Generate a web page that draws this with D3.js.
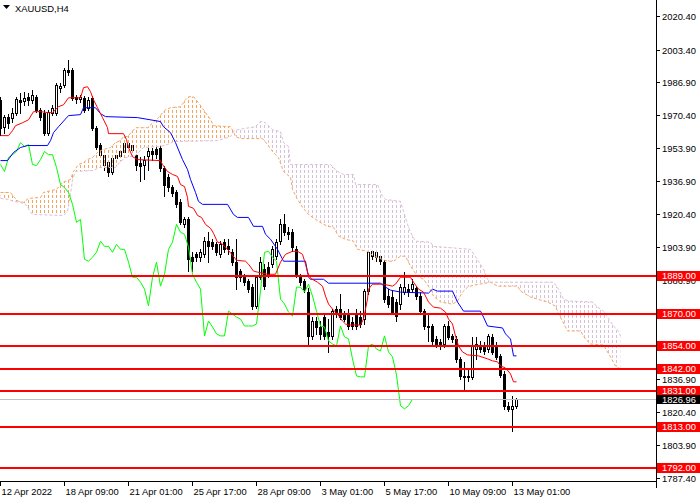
<!DOCTYPE html>
<html>
<head>
<meta charset="utf-8">
<script src="https://cdn.jsdelivr.net/npm/d3@7"></script>
<style>
  html, body { margin: 0; padding: 0; background: #fff; }
  svg text { font-family: "Liberation Sans", Arial, sans-serif; font-size: 9.4px; }
</style>
</head>
<body>
<div id="container"></div>
<script>
// XAUUSD H4 candles, bars 0..129 (one bar = 4 hours)
const open = [1978.1,1964.5,1969.6,1969.1,1971.6,1978.1,1977.6,1979.6,1978.1,1979.6,
  1973.1,1971.6,1961.5,1971.6,1971.6,1984.2,1985.7,1993.2,1993.2,1979.6,
  1978.6,1979.1,1974.1,1979.1,1964.0,1955.5,1950.4,1946.9,1941.9,1948.9,
  1949.4,1952.0,1956.5,1953.0,1950.4,1946.4,1945.4,1949.4,1952.0,1953.0,
  1954.0,1943.9,1938.9,1934.3,1931.3,1926.3,1915.2,1917.7,1898.6,1900.1,
  1898.6,1900.1,1906.7,1906.2,1905.1,1900.1,1906.2,1904.1,1901.1,1896.1,
  1891.6,1889.0,1886.5,1883.5,1874.0,1888.5,1892.6,1893.6,1895.1,1899.1,
  1906.7,1915.2,1911.2,1911.2,1902.6,1889.0,1886.5,1881.0,1858.9,1866.4,
  1863.4,1868.4,1860.9,1858.9,1872.4,1872.4,1869.9,1869.9,1865.9,1869.9,
  1868.4,1867.4,1881.5,1899.1,1901.1,1899.1,1896.1,1879.0,1878.5,1876.0,
  1875.0,1881.0,1882.5,1882.5,1883.0,1879.0,1871.4,1863.9,1863.9,1857.4,
  1855.8,1854.8,1863.9,1858.9,1857.4,1847.3,1838.7,1838.7,1838.2,1852.3,
  1853.8,1853.3,1852.3,1858.4,1853.8,1848.8,1839.7,1823.6,1822.1,1823.6];
const high = [1979.6,1970.6,1971.1,1974.1,1979.6,1981.6,1982.1,1981.6,1983.2,1980.6,
  1974.1,1973.1,1973.1,1975.6,1986.7,1986.7,1994.2,1998.3,1994.2,1980.6,
  1980.6,1980.1,1979.6,1980.1,1965.0,1956.5,1952.0,1948.9,1950.4,1953.0,
  1954.0,1958.0,1958.0,1957.0,1953.0,1949.4,1949.9,1954.0,1954.0,1954.5,
  1955.5,1944.9,1940.4,1935.3,1932.8,1927.8,1918.7,1918.7,1901.1,1901.1,
  1902.6,1908.7,1911.2,1907.7,1906.2,1906.7,1907.7,1907.7,1902.6,1907.7,
  1892.6,1890.0,1887.5,1885.0,1889.5,1898.6,1895.1,1896.1,1904.1,1907.7,
  1917.7,1920.2,1913.7,1912.7,1904.1,1890.0,1887.5,1883.0,1868.4,1868.4,
  1866.4,1869.9,1867.4,1872.4,1874.0,1880.0,1871.4,1872.4,1868.4,1872.4,
  1871.4,1882.5,1905.1,1909.2,1903.6,1908.7,1897.6,1882.5,1881.5,1877.5,
  1885.0,1891.1,1885.0,1887.5,1884.0,1881.0,1872.4,1869.9,1864.9,1858.9,
  1857.4,1864.9,1866.4,1859.9,1858.9,1848.3,1845.8,1842.2,1858.4,1858.4,
  1856.3,1855.8,1859.9,1859.9,1855.8,1849.8,1841.2,1825.6,1828.6,1827.6];
const low = [1960.5,1961.5,1964.0,1967.1,1970.6,1971.6,1975.6,1975.6,1976.6,1972.1,
  1968.1,1960.5,1960.5,1970.6,1970.6,1982.1,1984.7,1990.7,1978.1,1976.6,
  1977.1,1972.1,1973.1,1963.0,1953.0,1947.9,1942.9,1939.4,1940.4,1946.9,
  1947.9,1950.4,1953.0,1952.0,1942.9,1936.9,1937.9,1942.9,1947.9,1948.9,
  1941.9,1929.3,1931.8,1929.3,1923.8,1915.2,1913.7,1891.6,1891.6,1896.6,
  1896.6,1898.6,1896.1,1902.6,1899.6,1898.6,1901.1,1900.1,1894.6,1882.5,
  1886.5,1884.5,1881.0,1872.4,1873.0,1887.5,1882.5,1888.5,1893.6,1897.6,
  1905.1,1909.7,1907.7,1901.6,1888.5,1884.5,1881.0,1854.8,1857.4,1859.9,
  1857.4,1857.4,1850.8,1857.4,1868.4,1867.4,1866.4,1862.4,1862.4,1862.4,
  1863.4,1864.9,1880.0,1897.6,1896.6,1895.1,1876.0,1873.5,1869.9,1866.4,
  1872.4,1880.0,1879.0,1881.0,1877.5,1869.9,1862.4,1856.3,1854.8,1853.3,
  1852.3,1853.3,1857.4,1855.8,1845.8,1837.2,1832.2,1836.2,1837.2,1847.3,
  1850.8,1849.8,1850.8,1849.8,1847.3,1838.2,1822.1,1821.1,1811.0,1822.6];
const close = [1964.0,1969.6,1966.6,1971.6,1978.6,1977.1,1979.1,1978.1,1980.6,1973.1,
  1969.6,1961.5,1972.1,1974.1,1985.7,1985.2,1993.2,1992.2,1979.1,1978.6,
  1979.6,1973.1,1978.1,1964.0,1954.5,1950.4,1945.4,1941.9,1948.9,1950.4,
  1952.0,1956.5,1954.5,1955.5,1945.4,1944.9,1947.9,1952.0,1950.4,1950.4,
  1943.9,1935.3,1933.8,1931.3,1925.3,1916.2,1917.7,1897.6,1896.6,1898.6,
  1901.1,1906.7,1904.1,1904.1,1901.1,1905.1,1902.6,1902.6,1896.1,1888.5,
  1888.5,1886.0,1882.5,1874.0,1888.5,1896.1,1884.0,1890.0,1902.6,1906.2,
  1915.2,1911.2,1910.2,1903.6,1890.0,1886.0,1882.5,1858.9,1866.4,1863.4,
  1859.9,1858.9,1858.9,1871.4,1869.9,1868.4,1867.4,1863.9,1863.9,1863.9,
  1864.9,1881.5,1901.1,1901.6,1898.6,1896.6,1877.5,1875.0,1870.9,1868.9,
  1883.5,1883.5,1881.0,1885.0,1879.0,1871.4,1863.9,1863.4,1856.3,1854.8,
  1853.8,1863.9,1858.4,1857.4,1847.3,1838.7,1838.2,1838.2,1853.8,1854.8,
  1852.3,1851.3,1858.9,1850.8,1848.3,1839.2,1823.6,1822.1,1823.6,1826.96];

// Ichimoku lines as [bar, price]
const tenkan = [[0,1960.0],[2,1960.0],[3,1962.5],[3.75,1965.0],[5.5,1966.5],[7,1968.0],[8.25,1972.1],[10,1972.1],
  [12,1971.6],[13,1971.6],[14.5,1974.6],[15.75,1975.6],[17,1979.1],[20,1979.1],[20.75,1984.2],[21.75,1984.7],
  [22.5,1982.2],[23.25,1978.1],[24.25,1974.1],[25.5,1969.1],[26.75,1964.0],[27,1961.0],[30.75,1961.0],[31.5,1958.0],
  [32,1954.0],[33,1949.4],[34.25,1947.9],[40,1947.4],[40.5,1945.4],[41.75,1941.9],[43,1940.4],[44.25,1939.4],
  [45,1935.3],[46,1934.3],[46.75,1928.8],[47,1924.3],[48.25,1923.3],[49.25,1919.7],[50.25,1918.7],[51.25,1915.2],
  [52.5,1913.2],[53.25,1910.7],[54.25,1906.2],[55.25,1905.7],[56.75,1902.6],[58,1899.6],[59,1897.1],[61.25,1896.6],
  [62,1895.1],[63.25,1891.6],[64.25,1891.1],[66.75,1890.0],[68.75,1890.0],[70,1896.1],[71.25,1900.1],[73,1901.6],
  [74.25,1901.6],[75.5,1900.1],[76.25,1895.1],[76.75,1891.1],[77.5,1888.0],[79.25,1886.0],[80.5,1884.0],[81.25,1879.0],
  [82,1875.0],[83,1872.4],[84.25,1869.9],[85.5,1866.4],[86.25,1864.9],[87,1864.4],[90,1864.4],[90.75,1867.4],
  [91.25,1872.4],[91.75,1877.5],[92,1882.5],[93,1885.0],[95.75,1885.0],[98,1884.0],[98.75,1885.0],[100,1888.5],
  [102.5,1888.5],[103.25,1886.0],[104.5,1882.5],[105.75,1881.0],[107,1876.0],[108.25,1873.4],[110,1872.9],[111.25,1870.9],
  [112,1867.4],[113,1864.9],[113.75,1858.8],[114.5,1853.8],[115.5,1850.8],[116.75,1849.3],[119.5,1848.8],[121.75,1847.3],
  [123,1846.3],[124.25,1845.8],[125,1843.7],[126.25,1842.7],[127.5,1839.7],[128.25,1835.7],[129,1835.7]];
const kijun = [[0,1947.4],[1.75,1947.4],[3.25,1951.5],[5,1954.0],[6.75,1955.0],[11.75,1955.0],[12.5,1957.5],[13.25,1961.5],
  [14.5,1964.5],[17,1970.1],[20,1970.6],[20.75,1974.1],[23.75,1974.1],[25,1971.1],[26.25,1969.6],[34.25,1969.1],
  [40,1967.1],[40.75,1964.5],[42.5,1961.5],[43.75,1956.5],[45.5,1947.9],[46.75,1942.9],[47.5,1937.9],[48.75,1931.3],
  [49.5,1926.8],[50.5,1925.3],[56.75,1925.3],[58.25,1920.2],[59.25,1918.7],[62,1918.7],[63.25,1914.2],[65.5,1914.2],
  [66.25,1910.2],[67.5,1907.7],[69.25,1902.6],[70.5,1897.6],[70.75,1896.6],[76.25,1896.6],[77,1888.5],[77.5,1887.5],
  [80.75,1887.5],[82,1885.5],[95,1885.5],[96.25,1883.5],[97.5,1882.0],[100,1881.0],[107,1880.5],[108,1882.5],
  [109.25,1881.5],[113,1881.5],[114.25,1876.0],[115.75,1871.4],[120,1871.4],[120.75,1868.4],[121.75,1863.9],[125.5,1862.9],
  [126.25,1859.9],[127.5,1857.3],[128.25,1848.8],[129,1848.8]];
const spanA = [[0,1931.3],[2.5,1931.3],[3.25,1929.3],[4.5,1926.8],[5.75,1926.3],[7,1928.3],[10,1928.8],[10.75,1931.3],
  [13.75,1932.8],[14.5,1933.8],[15.5,1936.4],[17.5,1937.9],[18.25,1941.9],[19.5,1945.4],[20.75,1946.4],[21.75,1947.9],
  [23,1948.9],[24.5,1952.0],[25.75,1953.0],[27.5,1954.0],[28.75,1956.5],[30,1957.5],[30.75,1959.5],[31.75,1959.5],
  [33.75,1964.0],[36.75,1964.0],[39.5,1969.1],[41.25,1973.1],[42.5,1974.1],[45,1974.6],[46.25,1978.1],[47,1979.6],
  [48.25,1979.6],[49.5,1976.6],[50.75,1973.1],[52.5,1968.1],[53.25,1965.0],[57.5,1964.5],[58.25,1962.0],[58.75,1959.5],
  [60,1958.5],[65.5,1958.5],[66.75,1955.5],[68,1952.0],[69.5,1948.9],[70.75,1941.9],[72.5,1938.9],[73,1932.8],
  [74.25,1927.8],[75.5,1923.8],[77,1920.2],[79.5,1916.7],[81.75,1914.2],[83.25,1913.7],[84.5,1909.2],[86.25,1907.7],
  [88.25,1906.7],[89.25,1902.6],[91.75,1901.6],[93.25,1899.1],[96.75,1896.6],[98.25,1896.6],[100,1899.1],[101.25,1899.1],
  [102.5,1894.1],[104.25,1889.0],[105.75,1887.5],[107,1884.0],[108.25,1879.0],[110,1876.0],[113,1874.9],[114.25,1876.5],
  [115.5,1881.0],[116.75,1883.5],[118.25,1884.5],[122.5,1886.0],[124.25,1884.0],[129.25,1884.0],[130,1881.5],[131.25,1880.0],
  [132.5,1878.5],[135,1877.0],[136.75,1876.0],[138.75,1873.9],[139.5,1869.9],[140.5,1866.4],[141.75,1861.4],[145,1861.4],
  [146.25,1857.3],[147.5,1854.8],[150.75,1854.3],[151.75,1850.8],[152.5,1848.3],[153.75,1843.7],[155,1842.2]];
const spanB = [[0,1928.3],[2,1927.8],[3.25,1926.8],[5,1926.3],[6.25,1925.3],[8,1920.2],[15.75,1919.7],[16.75,1921.8],
  [17.5,1930.3],[18,1937.9],[18.75,1941.9],[23.25,1942.4],[24.5,1943.9],[28.75,1943.9],[30,1946.9],[31.25,1948.9],
  [33.75,1949.9],[35.75,1954.0],[40,1954.5],[41.75,1955.5],[43.25,1957.0],[54.25,1957.5],[57.5,1959.5],[58.25,1962.0],
  [59.25,1963.0],[63.75,1964.5],[65,1967.1],[65.75,1967.1],[66.75,1965.5],[68,1963.0],[70,1962.0],[70.75,1956.5],
  [72,1954.5],[72.5,1945.4],[82.5,1945.4],[84.25,1941.9],[85.75,1940.4],[88.25,1940.4],[88.75,1935.3],[94.25,1935.3],
  [95.5,1929.3],[96.25,1927.8],[100,1926.8],[100.75,1921.8],[102,1913.7],[103,1909.2],[103.75,1906.7],[107.5,1906.2],
  [108.25,1904.1],[117.5,1902.6],[119.5,1896.6],[120.75,1892.6],[121.75,1887.5],[122.5,1886.0],[138.25,1886.0],[139.5,1882.5],
  [140.75,1877.5],[142,1876.5],[148,1876.0],[149.25,1873.4],[150.75,1871.4],[151.75,1868.4],[153.25,1863.9],[154.5,1861.4],
  [155,1858.8]];
const chikouShift = 26;

// horizontal levels and axis labels
const levels = [1889.00, 1870.00, 1854.00, 1842.00, 1831.00, 1813.00, 1792.00];
const lastPrice = 1826.96;
const priceTicks = [2020.40, 2003.40, 1986.90, 1970.40, 1953.90, 1936.90, 1920.40, 1903.90,
  1886.90, 1870.40, 1853.90, 1836.90, 1820.40, 1803.90, 1787.40];
const timeTickBars = [0, 16, 32, 48, 64, 80, 96, 112, 128];
const timeTickLabels = ["12 Apr 2022", "18 Apr 09:00", "21 Apr 01:00", "25 Apr 17:00", "28 Apr 09:00",
  "3 May 01:00", "5 May 17:00", "10 May 09:00", "13 May 01:00"];

const width = 700, height = 500;
const plotRight = 656, plotBottom = 481;

const x = d3.scaleLinear().domain([0, 164]).range([0, plotRight]);
const y = d3.scaleLinear().domain([1787.4, 2020.4]).range([477.5, 16]);
const cx = (i) => Math.round(x(i)) + 0.5;

const svg = d3.create("svg")
  .attr("width", width)
  .attr("height", height)
  .attr("viewBox", [0, 0, width, height]);

svg.append("rect").attr("width", width).attr("height", height).attr("fill", "#fff");

const defs = svg.append("defs");
// MT4 style dotted histogram: 3px colour, 2px background, one column per bar
function hatch(id, color) {
  const p = defs.append("pattern")
    .attr("id", id)
    .attr("patternUnits", "userSpaceOnUse")
    .attr("width", 4).attr("height", 5);
  p.append("rect").attr("x", 0).attr("y", 0).attr("width", 1).attr("height", 5).attr("fill", "#fff");
  p.append("rect").attr("x", 0).attr("y", 0).attr("width", 1).attr("height", 3).attr("fill", color);
}
hatch("kumoUp", "#F4A460");
hatch("kumoDn", "#D8BFD8");

defs.append("clipPath").attr("id", "plotClip")
  .append("rect").attr("width", plotRight).attr("height", plotBottom);

// region above / below span B, used to colour the cloud
const aboveB = d3.area().x(d => x(d[0]) + 0.5).y0(0).y1(d => y(d[1]));
const belowB = d3.area().x(d => x(d[0]) + 0.5).y0(plotBottom).y1(d => y(d[1]));
defs.append("clipPath").attr("id", "clipAbove").append("path").attr("d", aboveB(spanB));
defs.append("clipPath").attr("id", "clipBelow").append("path").attr("d", belowB(spanB));

const plot = svg.append("g").attr("clip-path", "url(#plotClip)");

// candles
const bars = d3.range(open.length);
const candles = plot.append("g");
candles.selectAll("line")
  .data(bars)
  .join("line")
  .attr("x1", cx).attr("x2", cx)
  .attr("y1", i => Math.round(y(high[i])))
  .attr("y2", i => Math.round(y(low[i])) + 1)
  .attr("stroke", "#000")
  .attr("stroke-width", 1);
candles.selectAll("rect")
  .data(bars)
  .join("rect")
  .attr("x", i => cx(i) - 1)
  .attr("width", 2)
  .attr("y", i => Math.round(y(Math.max(open[i], close[i]))) + 0.5)
  .attr("height", i => Math.max(0.01, Math.round(Math.abs(y(open[i]) - y(close[i])))))
  .attr("fill", i => close[i] >= open[i] ? "#fff" : "#000")
  .attr("stroke", "#000")
  .attr("stroke-width", 1);

// kumo
const line = d3.line().x(d => x(d[0]) + 0.5).y(d => y(d[1]));
const kumoPath = line(spanA) + "L" + line(spanB.slice().reverse()).slice(1) + "Z";
plot.append("path").attr("d", kumoPath).attr("fill", "url(#kumoUp)").attr("clip-path", "url(#clipAbove)");
plot.append("path").attr("d", kumoPath).attr("fill", "url(#kumoDn)").attr("clip-path", "url(#clipBelow)");
plot.append("path").attr("d", line(spanA)).attr("fill", "none")
  .attr("stroke", "#F4A460").attr("stroke-width", 1).attr("stroke-dasharray", "3,2");
plot.append("path").attr("d", line(spanB)).attr("fill", "none")
  .attr("stroke", "#D8BFD8").attr("stroke-width", 1).attr("stroke-dasharray", "3,2");

// chikou span: the close plotted 26 bars back
const chikou = close.map((c, i) => [i - chikouShift, c]).filter(d => d[0] >= 0);
plot.append("path").attr("d", line(chikou)).attr("fill", "none").attr("stroke", "#00FF00").attr("stroke-width", 1);
plot.append("path").attr("d", line(kijun)).attr("fill", "none").attr("stroke", "#0000FF").attr("stroke-width", 1);
plot.append("path").attr("d", line(tenkan)).attr("fill", "none").attr("stroke", "#FF0000").attr("stroke-width", 1);

// last price line
svg.append("line")
  .attr("x1", 0).attr("x2", plotRight)
  .attr("y1", Math.round(y(lastPrice)) + 0.5).attr("y2", Math.round(y(lastPrice)) + 0.5)
  .attr("stroke", "#C0C0C0").attr("stroke-width", 1);

// horizontal levels
svg.append("g").selectAll("line")
  .data(levels)
  .join("line")
  .attr("x1", 0).attr("x2", plotRight)
  .attr("y1", d => Math.round(y(d))).attr("y2", d => Math.round(y(d)))
  .attr("stroke", "#FF0000").attr("stroke-width", 2);

// price axis
svg.append("line")
  .attr("x1", plotRight + 0.5).attr("x2", plotRight + 0.5)
  .attr("y1", 0).attr("y2", 488)
  .attr("stroke", "#000");
const pt = svg.append("g").selectAll("g").data(priceTicks).join("g")
  .attr("transform", d => `translate(0,${Math.round(y(d)) + 0.5})`);
pt.append("line").attr("x1", plotRight).attr("x2", plotRight + 4).attr("stroke", "#000");
pt.append("text").attr("x", plotRight + 6).attr("dy", "0.35em").attr("fill", "#000")
  .text(d => d.toFixed(2));

const lv = svg.append("g").selectAll("g").data(levels).join("g")
  .attr("transform", d => `translate(0,${Math.round(y(d))})`);
lv.append("rect").attr("x", plotRight + 1).attr("y", -5).attr("width", 43).attr("height", 10).attr("fill", "#FF0000");
lv.append("text").attr("x", plotRight + 6).attr("dy", "0.35em").attr("fill", "#fff")
  .text(d => d.toFixed(2));

const lp = svg.append("g").attr("transform", `translate(0,${Math.round(y(lastPrice))})`);
lp.append("rect").attr("x", plotRight + 1).attr("y", -4).attr("width", 43).attr("height", 9).attr("fill", "#000");
lp.append("text").attr("x", plotRight + 6).attr("dy", "0.38em").attr("fill", "#fff").text(lastPrice.toFixed(2));

// time axis
svg.append("line")
  .attr("x1", 0).attr("x2", plotRight + 1)
  .attr("y1", plotBottom + 0.5).attr("y2", plotBottom + 0.5)
  .attr("stroke", "#000");
const tt = svg.append("g").selectAll("g").data(timeTickBars).join("g")
  .attr("transform", d => `translate(${cx(d)},0)`);
tt.append("line").attr("y1", plotBottom).attr("y2", plotBottom + 5).attr("stroke", "#000");
tt.append("text").attr("x", 1).attr("y", 495).attr("fill", "#000")
  .text((d, i) => timeTickLabels[i]);

// title
svg.append("path").attr("d", "M3,5L10,5L6.5,9Z").attr("fill", "#000");
svg.append("text").attr("x", 15).attr("y", 12).attr("fill", "#000").text("XAUUSD,H4");

document.getElementById("container").append(svg.node());
</script>
</body>
</html>
